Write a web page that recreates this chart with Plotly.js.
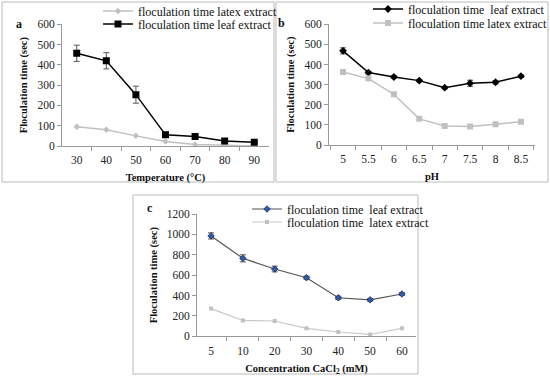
<!DOCTYPE html>
<html><head><meta charset="utf-8">
<script src="https://cdn.plot.ly/plotly-3.0.1.min.js"></script>
<style>body{margin:0;padding:0;background:#fff}#chart{width:550px;height:379px}</style>
</head><body><div id="chart"></div>
<script>
// Panel a: temperature
const tempCats = ['30','40','50','60','70','80','90'];
const tempLatex = [95, 80, 50, 22, 8, 3, 0];
const tempLeaf = [457, 420, 253, 55, 47, 25, 18];
const tempLeafErr = [40, 40, 42, 6, 4, 4, 4];
// Panel b: pH
const phCats = ['5','5.5','6','6.5','7','7.5','8','8.5'];
const phLeaf = [468, 360, 338, 320, 285, 307, 312, 342];
const phLeafErr = [15, 6, 6, 6, 6, 15, 8, 6];
const phLatex = [363, 330, 252, 130, 95, 92, 103, 116];
// Panel c: CaCl2
const caCats = ['5','10','20','30','40','50','60'];
const caLeaf = [985, 765, 660, 575, 378, 358, 415];
const caLeafErr = [30, 35, 28, 15, 15, 12, 12];
const caLatex = [272, 155, 150, 78, 42, 18, 78];

const FONT = '"Liberation Serif", "DejaVu Serif", serif';
const W = 550, H = 379;
const px = v => v / W, py = v => 1 - v / H;

const traces = [
  {x: tempCats, y: tempLatex, type: 'scatter', mode: 'lines+markers', name: 'floculation time latex extract',
   line: {color: '#c0c0c0', width: 1.5}, marker: {symbol: 'diamond', size: 5, color: '#c0c0c0'},
   xaxis: 'x', yaxis: 'y', legend: 'legend'},
  {x: tempCats, y: tempLeaf, type: 'scatter', mode: 'lines+markers', name: 'floculation time leaf extract',
   line: {color: '#000', width: 1.5}, marker: {symbol: 'square', size: 7, color: '#000'},
   error_y: {type: 'data', array: tempLeafErr, color: '#555', thickness: 1, width: 3},
   xaxis: 'x', yaxis: 'y', legend: 'legend2'},
  {x: phCats, y: phLeaf, type: 'scatter', mode: 'lines+markers', name: 'floculation time  leaf extract',
   line: {color: '#000', width: 1.5}, marker: {symbol: 'diamond', size: 6, color: '#000'},
   error_y: {type: 'data', array: phLeafErr, color: '#555', thickness: 1, width: 3},
   xaxis: 'x2', yaxis: 'y2', legend: 'legend3'},
  {x: phCats, y: phLatex, type: 'scatter', mode: 'lines+markers', name: 'floculation time latex extract',
   line: {color: '#c0c0c0', width: 1.5}, marker: {symbol: 'square', size: 6, color: '#c0c0c0'},
   xaxis: 'x2', yaxis: 'y2', legend: 'legend4'},
  {x: caCats, y: caLeaf, type: 'scatter', mode: 'lines+markers', name: 'floculation time  leaf extract',
   line: {color: '#555', width: 1.2}, marker: {symbol: 'diamond', size: 5, color: '#2f5aa8', line: {color: '#1a2f60', width: 0.8}},
   error_y: {type: 'data', array: caLeafErr, color: '#555', thickness: 1, width: 3},
   xaxis: 'x3', yaxis: 'y3', legend: 'legend5'},
  {x: caCats, y: caLatex, type: 'scatter', mode: 'lines+markers', name: 'floculation time  latex extract',
   line: {color: '#c8c8c8', width: 1.2}, marker: {symbol: 'square', size: 4, color: '#c0c0c0'},
   xaxis: 'x3', yaxis: 'y3', legend: 'legend6'}
];

function xax(d, title, anchor, so, tso) {
  return {domain: d, type: 'category', anchor: anchor, showline: true, linecolor: '#999', linewidth: 1,
    ticks: 'outside', tickson: 'boundaries', ticklen: 4, tickcolor: '#999', showgrid: false, zeroline: false,
    ticklabelstandoff: so,
    tickfont: {family: FONT, size: 11.5, color: '#222'},
    title: {text: title, font: {family: FONT, size: 10.5, color: '#111', weight: 'bold'}, standoff: tso},
    fixedrange: true};
}
function yax(d, range, dtick, anchor) {
  return {domain: d, range: range, dtick: dtick, anchor: anchor, showline: true, linecolor: '#999', linewidth: 1,
    ticks: 'outside', ticklen: 4, tickcolor: '#999', showgrid: false, zeroline: false,
    tickfont: {family: FONT, size: 11.5, color: '#222'},
    title: {text: 'Floculation time (sec)', font: {family: FONT, size: 10.5, color: '#111', weight: 'bold'}, standoff: 7},
    fixedrange: true};
}
function leg(x, y) {
  return {x: px(x), y: py(y), xanchor: 'left', yanchor: 'middle', bgcolor: 'rgba(0,0,0,0)',
    font: {family: FONT, size: 12, color: '#111'}, itemwidth: 30, tracegroupgap: 0};
}

const layout = {
  width: W, height: H, margin: {l: 0, r: 0, t: 0, b: 0, autoexpand: false},
  paper_bgcolor: '#fff', plot_bgcolor: '#fff', showlegend: true,
  xaxis: xax([px(62), px(269)], 'Temperature (°C)', 'y', 3, 8),
  yaxis: yax([py(146), py(24.3)], [0, 600], 100, 'x'),
  xaxis2: xax([px(329), px(535)], 'pH', 'y2', 3, 8),
  yaxis2: yax([py(145), py(24.3)], [0, 600], 100, 'x2'),
  xaxis3: xax([px(197), px(416)], 'Concentration CaCl<sub>2</sub> (mM)', 'y3', 4, 8),
  yaxis3: yax([py(336.3), py(214)], [0, 1200], 200, 'x3'),
  legend: leg(98, 11),
  legend2: leg(98, 24),
  legend3: leg(368, 9),
  legend4: leg(368, 23),
  legend5: leg(247, 209),
  legend6: leg(247, 222),
  shapes: [
    {type: 'rect', xref: 'paper', yref: 'paper', x0: px(2), x1: px(274), y0: py(182), y1: py(2), line: {color: '#bbb', width: 1}},
    {type: 'rect', xref: 'paper', yref: 'paper', x0: px(276), x1: px(548), y0: py(182), y1: py(2), line: {color: '#bbb', width: 1}},
    {type: 'rect', xref: 'paper', yref: 'paper', x0: px(133), x1: px(418), y0: py(374), y1: py(195), line: {color: '#bbb', width: 1}}
  ],
  annotations: [
    {text: '<b>a</b>', x: px(14), y: py(15), xref: 'paper', yref: 'paper', showarrow: false, font: {family: FONT, size: 12, color: '#111'}},
    {text: '<b>b</b>', x: px(281), y: py(14), xref: 'paper', yref: 'paper', showarrow: false, font: {family: FONT, size: 12, color: '#111'}},
    {text: '<b>c</b>', x: px(145), y: py(208), xref: 'paper', yref: 'paper', showarrow: false, font: {family: FONT, size: 12, color: '#111'}}
  ]
};

Plotly.newPlot('chart', traces, layout, {displayModeBar: false, staticPlot: true});
</script></body></html>
